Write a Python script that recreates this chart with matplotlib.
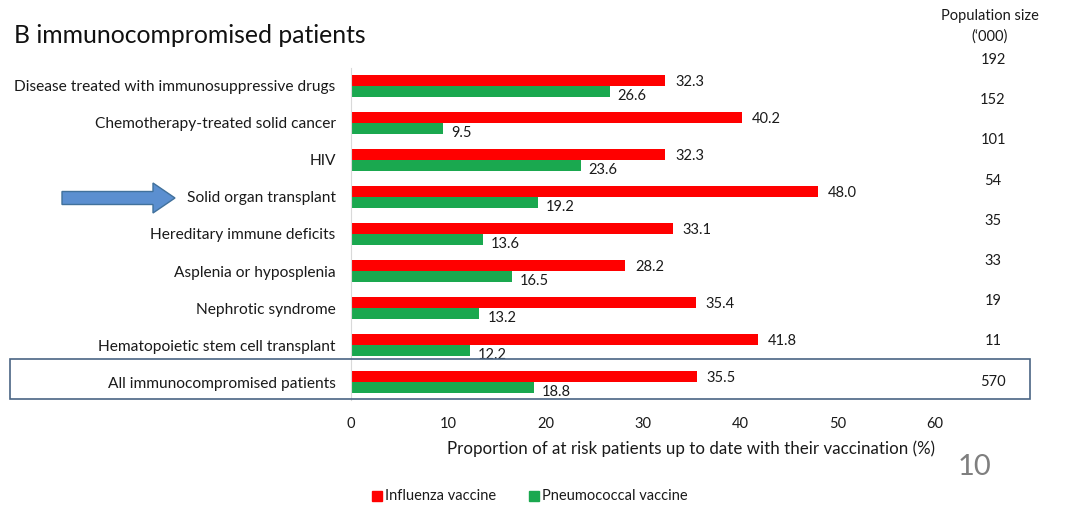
import matplotlib
matplotlib.use("Agg")
import matplotlib.pyplot as plt
from matplotlib.patches import Rectangle, FancyArrow

plt.rcParams['font.family'] = ['Lato', 'DejaVu Sans']

groups = [
    "Disease treated with immunosuppressive drugs",
    "Chemotherapy-treated solid cancer",
    "HIV",
    "Solid organ transplant",
    "Hereditary immune deficits",
    "Asplenia or hyposplenia",
    "Nephrotic syndrome",
    "Hematopoietic stem cell transplant",
    "All immunocompromised patients",
]
influenza = [32.3, 40.2, 32.3, 48.0, 33.1, 28.2, 35.4, 41.8, 35.5]
pneumococcal = [26.6, 9.5, 23.6, 19.2, 13.6, 16.5, 13.2, 12.2, 18.8]
population = [192, 152, 101, 54, 35, 33, 19, 11, 570]

RED = "#ff0000"
GREEN = "#1aa84f"
INK = "#1a1a1a"
W, H = 1073, 505

fig = plt.figure(figsize=(W / 100, H / 100), dpi=100)
# axes box in pixel terms: x 351..935, y 68..400
ax = fig.add_axes([351 / W, 1 - 400 / H, (935 - 351) / W, (400 - 68) / H])

ypos = list(range(len(groups)))
bh = 0.3
ax.barh([y - bh / 2 for y in ypos], influenza, height=bh, color=RED)
ax.barh([y + bh / 2 for y in ypos], pneumococcal, height=bh, color=GREEN)

for y, v in zip(ypos, influenza):
    ax.text(v + 1.0, y - 0.1, f"{v:.1f}", va="center", ha="left", fontsize=10.5, color=INK)
for y, v in zip(ypos, pneumococcal):
    ax.text(v + 0.8, y + 0.27, f"{v:.1f}", va="center", ha="left", fontsize=10.5, color=INK)

ax.set_xlim(0, 60)
ax.set_ylim(len(groups) - 1 + 0.486, -0.486)
ax.set_xticks(range(0, 61, 10))
ax.set_yticks(ypos)
ax.set_yticklabels(groups, fontsize=11.2, color=INK)
ax.tick_params(axis="both", length=0)
ax.tick_params(axis="y", pad=11)
ax.tick_params(axis="x", pad=12, labelsize=10.5, labelcolor=INK)
for s in ["top", "right", "bottom"]:
    ax.spines[s].set_visible(False)
ax.spines["left"].set_color("#d9d9d9")
ax.spines["left"].set_linewidth(0.8)

ax.set_xlabel("Proportion of at risk patients up to date with their vaccination (%)",
              fontsize=12.2, color=INK, labelpad=7, loc="right")

# title
fig.text(14 / W, 1 - 35 / H, "B immunocompromised patients", fontsize=17.8,
         va="center", ha="left", color="#111111")

# population column
fig.text(990 / W, 1 - 16 / H, "Population size", fontsize=10.5, ha="center", va="center", color=INK)
fig.text(990 / W, 1 - 37 / H, "(\u2018000)", fontsize=10.5, ha="center", va="center", color=INK)
for i, p in enumerate(population):
    fig.text(993 / W, 1 - (60 + 40.2 * i) / H, str(p), fontsize=10.5,
             ha="center", va="center", color=INK)

# frame around the overall row
fig.patches.append(Rectangle((10 / W, 1 - 399 / H), 1020 / W, 40 / H,
                             transform=fig.transFigure, fill=False,
                             edgecolor="#4a6584", linewidth=1.2))

# arrow pointing at solid organ transplant
fig.patches.append(FancyArrow(62 / W, 1 - 198 / H, 113 / W, 0, width=13 / H,
                              head_width=30 / H, head_length=22 / W,
                              length_includes_head=True, transform=fig.transFigure,
                              facecolor="#5b8fd0", edgecolor="#41719c", linewidth=1))

# slide number
fig.text(974 / W, 1 - 467 / H, "10", fontsize=21, ha="center", va="center",
         color="#7f7f7f")

# legend
fig.patches.append(Rectangle((372 / W, 1 - 501 / H), 10 / W, 10 / H,
                             transform=fig.transFigure, color=RED))
fig.text(385 / W, 1 - 496 / H, "Influenza vaccine", fontsize=10.5, va="center", color=INK)
fig.patches.append(Rectangle((529 / W, 1 - 501 / H), 10 / W, 10 / H,
                             transform=fig.transFigure, color=GREEN))
fig.text(542 / W, 1 - 496 / H, "Pneumococcal vaccine", fontsize=10.5, va="center", color=INK)

fig.savefig("out.png", dpi=100)
